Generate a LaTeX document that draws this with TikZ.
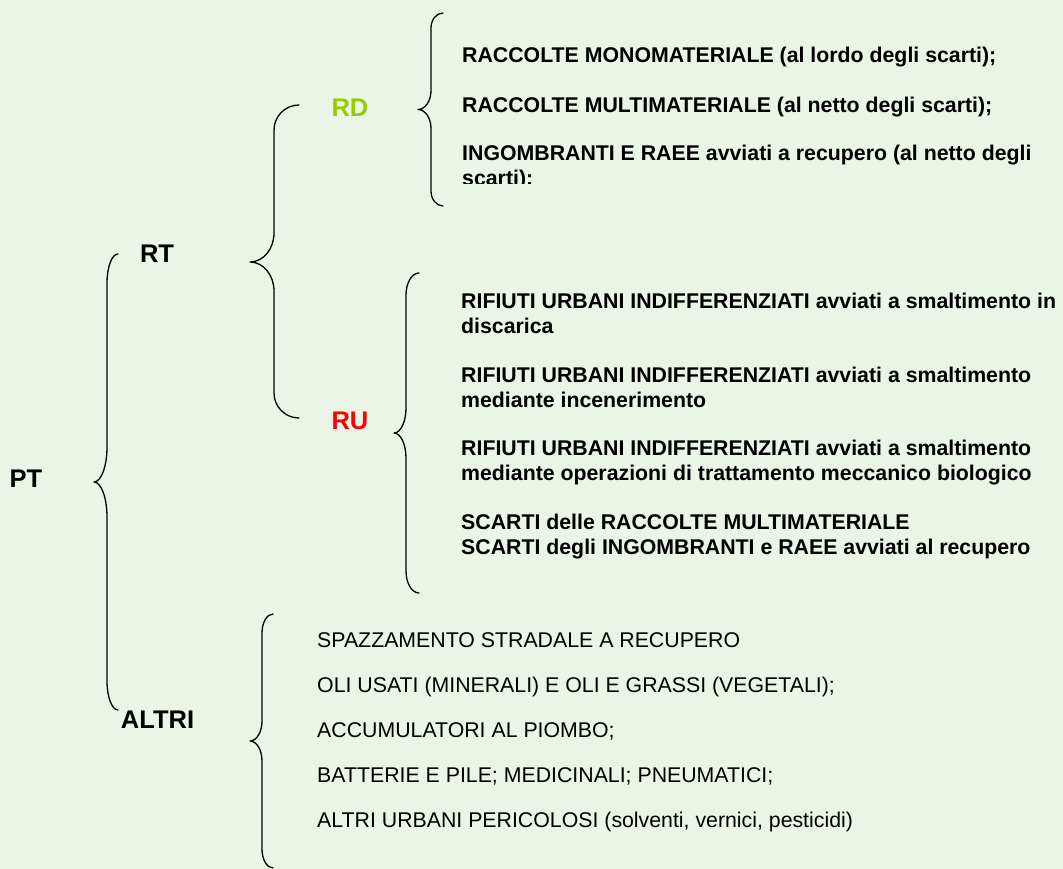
\documentclass[tikz,border=0pt]{standalone}
\usepackage{fontspec}
\setmainfont{Liberation Sans}
\definecolor{bggreen}{RGB}{235,245,231}
\definecolor{rdgreen}{RGB}{153,204,0}
\definecolor{rured}{RGB}{255,0,0}
\newcommand\wordbrace[8]{%
  \draw[bracestroke] (#1,#4) .. controls ({#1-0.552*(#1-#2)},#4) and (#2,{#4+0.448*#7}) .. (#2,{#4+#7})
    -- (#2,{#5-#8}) .. controls (#2,{#5-0.448*#8}) and ({#3+0.552*(#2-#3)},#5) .. (#3,#5)
    .. controls ({#3+0.552*(#2-#3)},#5) and (#2,{#5+0.448*#8}) .. (#2,{#5+#8})
    -- (#2,{#6-#7}) .. controls (#2,{#6-0.448*#7}) and ({#1-0.552*(#1-#2)},#6) .. (#1,#6);}
\tikzset{
  bracestroke/.style={draw=black, line width=1.3pt, line cap=round, line join=round},
  lbl/.style={font=\fontsize{25.5}{28}\selectfont\bfseries, inner sep=0pt, anchor=base},
  btxt/.style={font=\fontsize{21.3}{25}\selectfont\bfseries, inner sep=0pt, anchor=base west},
  rtxt/.style={font=\fontsize{21.3}{25}\selectfont, inner sep=0pt, anchor=base west}
}
\begin{document}
\begin{tikzpicture}[x=1pt, y=-1pt]
\fill[bggreen] (0,0) rectangle (1063,869);
\useasboundingbox (0,0) rectangle (1063,869);
% labels
\node[lbl] (pt) at (26,487) {PT};
\node[lbl] (rt) at (157,262) {RT};
\node[lbl] (altri) at (157.5,728) {ALTRI};
\node[lbl, text=rdgreen] (rd) at (350,117) {RD};
\node[lbl, text=rured] (ru) at (350,429) {RU};
% braces
\wordbrace{118}{107}{94}{254}{482}{710}{29}{35}
\wordbrace{299}{274}{250}{105}{262}{418}{25}{29}
\wordbrace{443}{431}{418}{13}{109.5}{206}{15}{19}
\wordbrace{419}{406}{394}{273}{433}{593}{22}{25}
\wordbrace{273}{262}{250}{614}{741}{868}{19}{20}
% RD texts
\begin{scope}
\clip (440,0) rectangle (1063,183.5);
\node[btxt] (rd1) at (462,62.6) {RACCOLTE MONOMATERIALE (al lordo degli scarti);};
\node[btxt] (rd2) at (462,112.6) {RACCOLTE MULTIMATERIALE (al netto degli scarti);};
\node[btxt] (rd3) at (462,160.6) {INGOMBRANTI E RAEE avviati a recupero (al netto degli};
\node[btxt] (rd3b) at (462,185.6) {scarti);};
\end{scope}
% RU texts
\node[btxt] (ru1) at (461,308.6) {RIFIUTI URBANI INDIFFERENZIATI avviati a smaltimento in};
\node[btxt] (ru1b) at (461,333.6) {discarica};
\node[btxt] (ru2) at (461,382.6) {RIFIUTI URBANI INDIFFERENZIATI avviati a smaltimento};
\node[btxt] (ru2b) at (461,407.6) {mediante incenerimento};
\node[btxt] (ru3) at (461,455.6) {RIFIUTI URBANI INDIFFERENZIATI avviati a smaltimento};
\node[btxt] (ru3b) at (461,480.6) {mediante operazioni di trattamento meccanico biologico};
\node[btxt] (ru4) at (461,529.6) {SCARTI delle RACCOLTE MULTIMATERIALE};
\node[btxt] (ru4b) at (461,554.6) {SCARTI degli INGOMBRANTI e RAEE avviati al recupero};
% ALTRI texts
\node[rtxt] (al1) at (317,647.6) {SPAZZAMENTO STRADALE A RECUPERO};
\node[rtxt] (al2) at (317,692.6) {OLI USATI (MINERALI) E OLI E GRASSI (VEGETALI);};
\node[rtxt] (al3) at (317,737.6) {ACCUMULATORI AL PIOMBO;};
\node[rtxt] (al4) at (317,782.6) {BATTERIE E PILE; MEDICINALI; PNEUMATICI;};
\node[rtxt] (al5) at (317,827.6) {ALTRI URBANI PERICOLOSI (solventi, vernici, pesticidi)};
\end{tikzpicture}
\end{document}
